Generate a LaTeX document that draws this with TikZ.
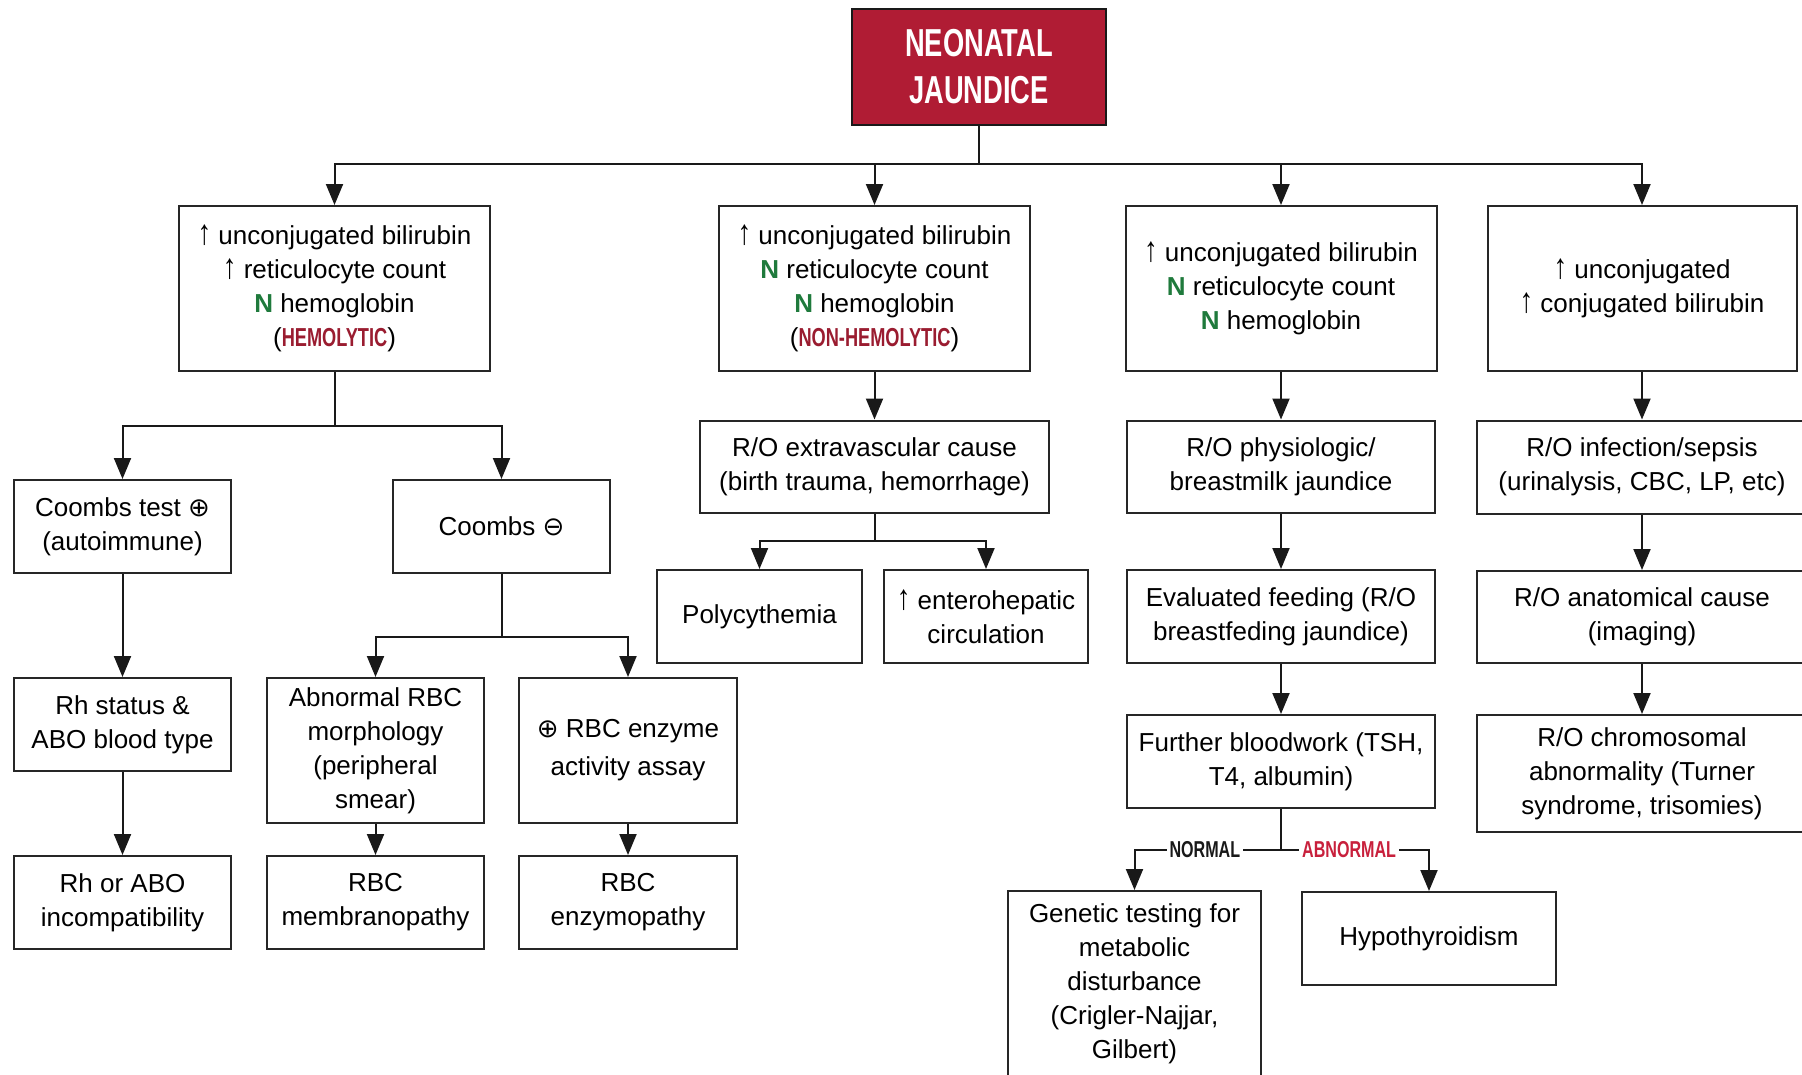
\documentclass[tikz,border=0pt]{standalone}
\usepackage{fontspec}
\setmainfont{Liberation Sans}
\newfontfamily\condfont{Liberation Sans}[FakeStretch=0.7]
\newfontfamily\symfont{DejaVu Sans}
\usetikzlibrary{arrows.meta}
\definecolor{jaundred}{HTML}{B01C34}
\definecolor{hemred}{HTML}{9A1C30}
\definecolor{normgreen}{HTML}{1F7A3C}
\definecolor{abnred}{HTML}{C8203C}
\newcommand{\uparr}{\scalebox{1.05}[1.35]{↑}}
\newcommand{\nmark}{\textcolor{normgreen}{\textbf{N}}}
\newcommand{\pmark}{{\symfont ⊕}}
\newcommand{\mmark}{{\symfont ⊖}}
\newcommand{\hemotag}[1]{(\textcolor{hemred}{\condfont\bfseries #1})}
\tikzset{
  >={Triangle[length=21pt,width=17pt]},
  sz/.style 2 args={minimum width=#1pt,minimum height=#2pt},
  box/.style={draw=black!85,line width=2pt,fill=white,align=center,
    inner sep=0pt,font=\fontsize{26}{34}\selectfont},
  rootbox/.style={draw=black!90,line width=2.4pt,fill=jaundred,text=white,
    align=center,inner sep=0pt,font=\fontsize{39}{47}\selectfont\condfont\bfseries},
  link/.style={line width=2pt,black!90},
  flow/.style={link,->},
  branchlbl/.style={fill=white,inner sep=3pt,font=\fontsize{23}{26}\selectfont\condfont\bfseries},
}
\begin{document}
\begin{tikzpicture}[x=1pt,y=-1pt]
  \useasboundingbox (0,0) rectangle (1802,1074);
  \node[rootbox,sz={254}{116}] (root) at (979,67) {NEONATAL\\JAUNDICE};
  \node[box,sz={311}{165}] (hemo) at (334.5,288.5)
    {\uparr{} unconjugated bilirubin\\\uparr{} reticulocyte count\\\nmark{} hemoglobin\\\hemotag{HEMOLYTIC}};
  \node[box,sz={311}{165}] (nonhemo) at (874.5,288.5)
    {\uparr{} unconjugated bilirubin\\\nmark{} reticulocyte count\\\nmark{} hemoglobin\\\hemotag{NON-HEMOLYTIC}};
  \node[box,sz={311}{165}] (nretic) at (1281,288.5)
    {\uparr{} unconjugated bilirubin\\\nmark{} reticulocyte count\\\nmark{} hemoglobin};
  \node[box,sz={309}{165}] (conj) at (1642,288.5) {\uparr{} unconjugated\\\uparr{} conjugated bilirubin};
  \node[box,sz={217}{93}] (coombsp) at (122.5,526.5) {Coombs test \pmark\\(autoimmune)};
  \node[box,sz={217}{93}] (coombsn) at (501.5,526.5) {Coombs \mmark};
  \node[box,sz={349}{92}] (extravasc) at (874.5,466.5) {R/O extravascular cause\\(birth trauma, hemorrhage)};
  \node[box,sz={308}{92}] (physio) at (1281,466.5) {R/O physiologic/\\breastmilk jaundice};
  \node[box,sz={330}{93}] (sepsis) at (1642,467) {R/O infection/sepsis\\(urinalysis, CBC, LP, etc)};
  \node[box,sz={205}{93}] (polycyt) at (759.5,616.5) {Polycythemia};
  \node[box,sz={204}{93}] (entero) at (986,616.5) {\uparr{} enterohepatic\\circulation};
  \node[box,sz={308}{93}] (feeding) at (1281,616.5) {Evaluated feeding (R/O\\breastfeding jaundice)};
  \node[box,sz={330}{92}] (anatom) at (1642,617) {R/O anatomical cause\\(imaging)};
  \node[box,sz={217}{93}] (rhstatus) at (122.5,724.5) {Rh status \&\\ABO blood type};
  \node[box,sz={217}{145}] (morph) at (375.5,750.5) {Abnormal RBC\\morphology\\(peripheral\\smear)};
  \node[box,sz={218}{145}] (enzassay) at (628,750.5) {\pmark{} RBC enzyme\\[4pt]activity assay};
  \node[box,sz={308}{93}] (bloodwork) at (1281,761.5) {Further bloodwork (TSH,\\T4, albumin)};
  \node[box,sz={330}{117}] (chromo) at (1642,773.5) {R/O chromosomal\\abnormality (Turner\\syndrome, trisomies)};
  \node[box,sz={217}{93}] (incompat) at (122.5,902.5) {Rh or ABO\\incompatibility};
  \node[box,sz={217}{93}] (membrano) at (375.5,902.5) {RBC\\membranopathy};
  \node[box,sz={218}{93}] (enzymo) at (628,902.5) {RBC\\enzymopathy};
  \node[box,sz={253}{186}] (genetic) at (1134.5,984)
    {Genetic testing for\\metabolic\\disturbance\\(Crigler-Najjar,\\Gilbert)};
  \node[box,sz={254}{93}] (hypothyr) at (1429,938.5) {Hypothyroidism};
  \coordinate (topbar) at (979,164);
  \coordinate (hemosplit) at (334.5,426);
  \coordinate (extrasplit) at (874.5,541);
  \coordinate (coombssplit) at (501.5,637);
  \coordinate (bloodsplit) at (1281,850);
  \draw[link] (root.south) -- (topbar);
  \foreach \n in {hemo,nonhemo,nretic,conj}
    \draw[flow] (topbar) -| (\n.north);
  \draw[link] (hemo.south) -- (hemosplit);
  \draw[flow] (hemosplit) -| (coombsp.north);
  \draw[flow] (hemosplit) -| (coombsn.north);
  \draw[flow] (nonhemo) -- (extravasc);
  \draw[link] (extravasc.south) -- (extrasplit);
  \draw[flow] (extrasplit) -| (polycyt.north);
  \draw[flow] (extrasplit) -| (entero.north);
  \draw[flow] (nretic) -- (physio);
  \draw[flow] (physio) -- (feeding);
  \draw[flow] (feeding) -- (bloodwork);
  \draw[flow] (conj) -- (sepsis);
  \draw[flow] (sepsis) -- (anatom);
  \draw[flow] (anatom) -- (chromo);
  \draw[flow] (coombsp) -- (rhstatus);
  \draw[flow] (rhstatus) -- (incompat);
  \draw[link] (coombsn.south) -- (coombssplit);
  \draw[flow] (coombssplit) -| (morph.north);
  \draw[flow] (coombssplit) -| (enzassay.north);
  \draw[flow] (morph) -- (membrano);
  \draw[flow] (enzassay) -- (enzymo);
  \draw[link] (bloodwork.south) -- (bloodsplit);
  \draw[flow] (bloodsplit) -| node[branchlbl,pos=0.26] {NORMAL} (genetic.north);
  \draw[flow] (bloodsplit) -| node[branchlbl,pos=0.23,text=abnred] {ABNORMAL} (hypothyr.north);
\end{tikzpicture}
\end{document}
